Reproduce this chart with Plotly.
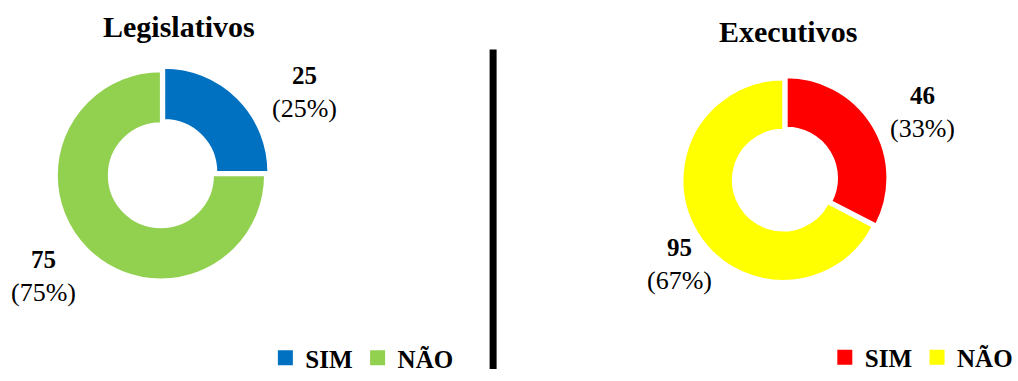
import plotly.graph_objects as go

W, H = 1018, 381

categories = ["SIM", "NÃO"]
legislativos_values = [25, 75]
executivos_values = [46, 95]
legislativos_colors = ["#0070C0", "#92D050"]
executivos_colors = ["#FF0000", "#FFFF00"]
titles = ["Legislativos", "Executivos"]

FONT = "Liberation Serif"


def px_x(x):
    return x / W


def px_y(y):
    return 1 - y / H


def domain(cx, cy, r, pull):
    h = r * (1 + pull)
    return dict(x=[px_x(cx - h), px_x(cx + h)], y=[px_y(cy + h), px_y(cy - h)])


pull_l = 0.045
pull_r = 0.04

fig = go.Figure()
fig.add_trace(go.Pie(
    labels=categories, values=legislativos_values, hole=0.5, sort=False,
    direction="clockwise", rotation=0, pull=[pull_l, 0],
    marker=dict(colors=legislativos_colors, line=dict(color="white", width=2)),
    textinfo="none", domain=domain(162.5, 181, 107.5, pull_l),
    showlegend=False, hoverinfo="label+value+percent",
))
fig.add_trace(go.Pie(
    labels=categories, values=executivos_values, hole=0.5, sort=False,
    direction="clockwise", rotation=0, pull=[pull_r, 0],
    marker=dict(colors=executivos_colors, line=dict(color="white", width=2)),
    textinfo="none", domain=domain(791, 186, 104, pull_r),
    showlegend=False, hoverinfo="label+value+percent",
))

# legend entries (one legend per donut)
for leg, colors in [("legend", legislativos_colors), ("legend2", executivos_colors)]:
    for name, c in zip(categories, colors):
        fig.add_trace(go.Scatter(
            x=[None], y=[None], mode="markers", name=f"<b>{name}</b>", legend=leg,
            marker=dict(symbol="square", size=15, color=c, line=dict(width=0)),
            showlegend=True, hoverinfo="skip",
        ))


def pct(vals):
    t = sum(vals)
    return [round(v * 100 / t) for v in vals]


label_pos = [
    [(308, 96), (44, 285)],
    [(932, 116), (686, 273)],
]
annotations = []
for vals, positions in zip([legislativos_values, executivos_values], label_pos):
    for v, p, (x, y) in zip(vals, pct(vals), positions):
        annotations.append(dict(
            x=px_x(x), y=px_y(y), xref="paper", yref="paper",
            text=f"<b>{v}</b><br><span style='font-size:26px'>({p}%)</span>",
            showarrow=False,
            font=dict(family=FONT, size=25, color="black"),
            xanchor="center", yanchor="middle", align="center",
        ))

for t, (x, y) in zip(titles, [(181, 27), (796, 33)]):
    annotations.append(dict(
        x=px_x(x), y=px_y(y), xref="paper", yref="paper",
        text=f"<b>{t}</b>", showarrow=False,
        font=dict(family=FONT, size=30, color="black"),
        xanchor="center", yanchor="middle",
    ))

legend_font = dict(family=FONT, size=25, color="black")
shapes = [dict(type="line", xref="paper", yref="paper",
               x0=px_x(498), x1=px_x(498), y0=px_y(51), y1=0,
               line=dict(color="black", width=7))]

fig.update_layout(
    width=W, height=H,
    margin=dict(l=0, r=0, t=0, b=0),
    paper_bgcolor="white", plot_bgcolor="white",
    xaxis=dict(visible=False, domain=[0, 1]),
    yaxis=dict(visible=False, domain=[0, 1]),
    annotations=annotations,
    legend=dict(orientation="h", x=px_x(268), y=px_y(370), xanchor="left", yanchor="middle",
                font=legend_font, bgcolor="rgba(0,0,0,0)", itemclick=False, traceorder="normal"),
    legend2=dict(orientation="h", x=px_x(833), y=px_y(369), xanchor="left", yanchor="middle",
                 font=legend_font, bgcolor="rgba(0,0,0,0)", itemclick=False, traceorder="normal"),
    shapes=shapes,
)

fig.write_html(
    "out.html",
    config={"displayModeBar": False},
    post_script="document.body.style.margin='0';document.body.style.overflow='hidden';",
)
